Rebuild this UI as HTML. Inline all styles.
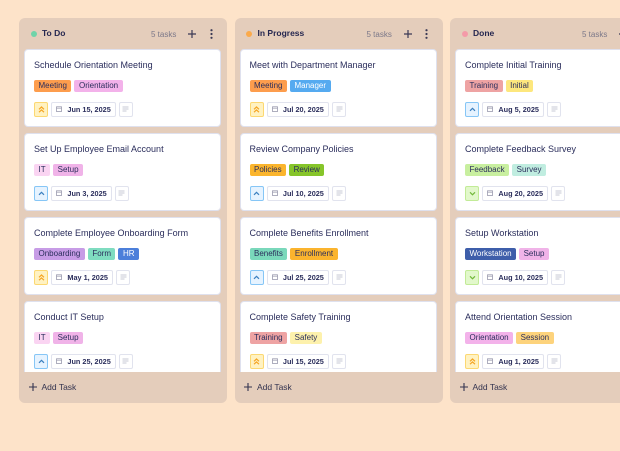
<!DOCTYPE html>
<html><head><meta charset="utf-8">
<style>
*{box-sizing:border-box;margin:0;padding:0}
html,body{width:620px;height:451px;overflow:hidden;background:#fde3c9;font-family:"Liberation Sans",sans-serif;}
.col{position:absolute;top:18px;width:208px;height:385px;background:#e4cdbb;border-radius:6px;}
.hdot{position:absolute;left:11.5px;top:12.5px;width:6px;height:6px;border-radius:50%}
.htitle{position:absolute;left:23px;top:10px;font-size:8.5px;font-weight:bold;color:#24264f;line-height:11px;white-space:nowrap}
.tasks{position:absolute;left:132px;top:10.5px;font-size:8px;color:#7b7889;line-height:11px;white-space:nowrap}
.hplus{position:absolute;left:169px;top:11.5px;width:8px;height:8px}
.hdots{position:absolute;left:190.5px;top:11px;width:3px;height:10px}
.list{position:absolute;left:0;top:30px;width:208px;height:324px;overflow:hidden}
.card{position:absolute;left:5px;width:197px;height:78px;background:#fff;border:1px solid #dfe1ee;border-radius:4px}
.title{position:absolute;left:9px;top:9px;font-size:9px;line-height:12px;color:#2b2e5c;white-space:nowrap}
.tags{position:absolute;left:9px;top:30px;height:12px;display:flex;gap:3px}
.tag{font-size:8px;line-height:12px;height:12px;padding:0 4.5px;border-radius:2px;color:#2b2e5c;white-space:nowrap}
.foot{position:absolute;left:9px;top:52.3px;height:14.4px;display:flex;gap:3px}
.prio{width:14.4px;height:14.4px;border-radius:2px;border:1px solid;display:flex;align-items:center;justify-content:center}
.p-h{background:#fff2c2;border-color:#fcd872}
.p-m{background:#e6f3ff;border-color:#86c6f6}
.p-l{background:#e2f8cb;border-color:#c2eb97}
.date{height:14.4px;border:1px solid #e1e3ee;border-radius:2px;padding:0 4px 0 4px;display:flex;align-items:center;font-size:7.3px;font-weight:bold;color:#2b2e5c;white-space:nowrap}
.date svg{margin-right:5px}
.note{width:14.4px;height:14.4px;border:1px solid #e1e3ee;border-radius:2px;display:flex;align-items:center;justify-content:center}
.add{position:absolute;left:9.5px;top:363px;display:flex;align-items:center;font-size:8.5px;color:#33334f;line-height:12px;white-space:nowrap}
.add svg{margin-right:5px}
</style></head><body>

<!-- Column 1 -->
<div class="col" style="left:19px">
  <div class="hdot" style="background:#6fd4a9"></div>
  <div class="htitle">To Do</div>
  <div class="tasks">5 tasks</div>
  <svg class="hplus" viewBox="0 0 8 8"><path d="M4 0V8M0 4H8" stroke="#3a3a55" stroke-width="1.2"/></svg>
  <svg class="hdots" viewBox="0 0 3 10"><circle cx="1.5" cy="1.2" r="1.1" fill="#3a3a55"/><circle cx="1.5" cy="5" r="1.1" fill="#3a3a55"/><circle cx="1.5" cy="8.8" r="1.1" fill="#3a3a55"/></svg>
  <div class="list">
    <div class="card" style="top:1px">
      <div class="title">Schedule Orientation Meeting</div>
      <div class="tags"><span class="tag" style="background:#fd9d4d">Meeting</span><span class="tag" style="background:#f3b2ea">Orientation</span></div>
      <div class="foot"><div class="prio p-h"><svg width="7" height="7" viewBox="0 0 7 7"><path d="M1 3.3L3.5 1L6 3.3M1 6.2L3.5 3.9L6 6.2" fill="none" stroke="#f5a524" stroke-width="1.2"/></svg></div><div class="date"><svg width="6" height="6" viewBox="0 0 6 6"><rect x=".5" y=".8" width="5" height="4.7" fill="none" stroke="#9a9aae" stroke-width=".8"/><path d="M.5 2.2H5.5" stroke="#9a9aae" stroke-width=".7"/></svg>Jun 15, 2025</div><div class="note"><svg width="7" height="6" viewBox="0 0 7 6"><path d="M0.5 1H6.5M0.5 3H6.5M0.5 5H4.5" stroke="#b5b8c8" stroke-width=".8"/></svg></div></div>
    </div>
    <div class="card" style="top:85px">
      <div class="title">Set Up Employee Email Account</div>
      <div class="tags"><span class="tag" style="background:#fad4f2">IT</span><span class="tag" style="background:#f0b3e8">Setup</span></div>
      <div class="foot"><div class="prio p-m"><svg width="7" height="5" viewBox="0 0 7 5"><path d="M1 3.8L3.5 1.3L6 3.8" fill="none" stroke="#3a7fbf" stroke-width="1.2"/></svg></div><div class="date"><svg width="6" height="6" viewBox="0 0 6 6"><rect x=".5" y=".8" width="5" height="4.7" fill="none" stroke="#9a9aae" stroke-width=".8"/><path d="M.5 2.2H5.5" stroke="#9a9aae" stroke-width=".7"/></svg>Jun 3, 2025</div><div class="note"><svg width="7" height="6" viewBox="0 0 7 6"><path d="M0.5 1H6.5M0.5 3H6.5M0.5 5H4.5" stroke="#b5b8c8" stroke-width=".8"/></svg></div></div>
    </div>
    <div class="card" style="top:169px">
      <div class="title">Complete Employee Onboarding Form</div>
      <div class="tags"><span class="tag" style="background:#c79ce6">Onboarding</span><span class="tag" style="background:#7fdcc0">Form</span><span class="tag" style="background:#4c7fda;color:#fff">HR</span></div>
      <div class="foot"><div class="prio p-h"><svg width="7" height="7" viewBox="0 0 7 7"><path d="M1 3.3L3.5 1L6 3.3M1 6.2L3.5 3.9L6 6.2" fill="none" stroke="#f5a524" stroke-width="1.2"/></svg></div><div class="date"><svg width="6" height="6" viewBox="0 0 6 6"><rect x=".5" y=".8" width="5" height="4.7" fill="none" stroke="#9a9aae" stroke-width=".8"/><path d="M.5 2.2H5.5" stroke="#9a9aae" stroke-width=".7"/></svg>May 1, 2025</div><div class="note"><svg width="7" height="6" viewBox="0 0 7 6"><path d="M0.5 1H6.5M0.5 3H6.5M0.5 5H4.5" stroke="#b5b8c8" stroke-width=".8"/></svg></div></div>
    </div>
    <div class="card" style="top:253px">
      <div class="title">Conduct IT Setup</div>
      <div class="tags"><span class="tag" style="background:#fad4f2">IT</span><span class="tag" style="background:#f0b3e8">Setup</span></div>
      <div class="foot"><div class="prio p-m"><svg width="7" height="5" viewBox="0 0 7 5"><path d="M1 3.8L3.5 1.3L6 3.8" fill="none" stroke="#3a7fbf" stroke-width="1.2"/></svg></div><div class="date"><svg width="6" height="6" viewBox="0 0 6 6"><rect x=".5" y=".8" width="5" height="4.7" fill="none" stroke="#9a9aae" stroke-width=".8"/><path d="M.5 2.2H5.5" stroke="#9a9aae" stroke-width=".7"/></svg>Jun 25, 2025</div><div class="note"><svg width="7" height="6" viewBox="0 0 7 6"><path d="M0.5 1H6.5M0.5 3H6.5M0.5 5H4.5" stroke="#b5b8c8" stroke-width=".8"/></svg></div></div>
    </div>
  </div>
  <div class="add"><svg width="8" height="8" viewBox="0 0 8 8"><path d="M4 0V8M0 4H8" stroke="#33334f" stroke-width="1.1"/></svg>Add Task</div>
</div>

<!-- Column 2 -->
<div class="col" style="left:234.5px">
  <div class="hdot" style="background:#fbaa4b"></div>
  <div class="htitle">In Progress</div>
  <div class="tasks">5 tasks</div>
  <svg class="hplus" viewBox="0 0 8 8"><path d="M4 0V8M0 4H8" stroke="#3a3a55" stroke-width="1.2"/></svg>
  <svg class="hdots" viewBox="0 0 3 10"><circle cx="1.5" cy="1.2" r="1.1" fill="#3a3a55"/><circle cx="1.5" cy="5" r="1.1" fill="#3a3a55"/><circle cx="1.5" cy="8.8" r="1.1" fill="#3a3a55"/></svg>
  <div class="list">
    <div class="card" style="top:1px">
      <div class="title">Meet with Department Manager</div>
      <div class="tags"><span class="tag" style="background:#fd9d4d">Meeting</span><span class="tag" style="background:#55aaf0;color:#fff">Manager</span></div>
      <div class="foot"><div class="prio p-h"><svg width="7" height="7" viewBox="0 0 7 7"><path d="M1 3.3L3.5 1L6 3.3M1 6.2L3.5 3.9L6 6.2" fill="none" stroke="#f5a524" stroke-width="1.2"/></svg></div><div class="date"><svg width="6" height="6" viewBox="0 0 6 6"><rect x=".5" y=".8" width="5" height="4.7" fill="none" stroke="#9a9aae" stroke-width=".8"/><path d="M.5 2.2H5.5" stroke="#9a9aae" stroke-width=".7"/></svg>Jul 20, 2025</div><div class="note"><svg width="7" height="6" viewBox="0 0 7 6"><path d="M0.5 1H6.5M0.5 3H6.5M0.5 5H4.5" stroke="#b5b8c8" stroke-width=".8"/></svg></div></div>
    </div>
    <div class="card" style="top:85px">
      <div class="title">Review Company Policies</div>
      <div class="tags"><span class="tag" style="background:#fbb52d">Policies</span><span class="tag" style="background:#86c52a">Review</span></div>
      <div class="foot"><div class="prio p-m"><svg width="7" height="5" viewBox="0 0 7 5"><path d="M1 3.8L3.5 1.3L6 3.8" fill="none" stroke="#3a7fbf" stroke-width="1.2"/></svg></div><div class="date"><svg width="6" height="6" viewBox="0 0 6 6"><rect x=".5" y=".8" width="5" height="4.7" fill="none" stroke="#9a9aae" stroke-width=".8"/><path d="M.5 2.2H5.5" stroke="#9a9aae" stroke-width=".7"/></svg>Jul 10, 2025</div><div class="note"><svg width="7" height="6" viewBox="0 0 7 6"><path d="M0.5 1H6.5M0.5 3H6.5M0.5 5H4.5" stroke="#b5b8c8" stroke-width=".8"/></svg></div></div>
    </div>
    <div class="card" style="top:169px">
      <div class="title">Complete Benefits Enrollment</div>
      <div class="tags"><span class="tag" style="background:#7ad8bb">Benefits</span><span class="tag" style="background:#fbb42e">Enrollment</span></div>
      <div class="foot"><div class="prio p-m"><svg width="7" height="5" viewBox="0 0 7 5"><path d="M1 3.8L3.5 1.3L6 3.8" fill="none" stroke="#3a7fbf" stroke-width="1.2"/></svg></div><div class="date"><svg width="6" height="6" viewBox="0 0 6 6"><rect x=".5" y=".8" width="5" height="4.7" fill="none" stroke="#9a9aae" stroke-width=".8"/><path d="M.5 2.2H5.5" stroke="#9a9aae" stroke-width=".7"/></svg>Jul 25, 2025</div><div class="note"><svg width="7" height="6" viewBox="0 0 7 6"><path d="M0.5 1H6.5M0.5 3H6.5M0.5 5H4.5" stroke="#b5b8c8" stroke-width=".8"/></svg></div></div>
    </div>
    <div class="card" style="top:253px">
      <div class="title">Complete Safety Training</div>
      <div class="tags"><span class="tag" style="background:#eea3a3">Training</span><span class="tag" style="background:#fdf1ac">Safety</span></div>
      <div class="foot"><div class="prio p-h"><svg width="7" height="7" viewBox="0 0 7 7"><path d="M1 3.3L3.5 1L6 3.3M1 6.2L3.5 3.9L6 6.2" fill="none" stroke="#f5a524" stroke-width="1.2"/></svg></div><div class="date"><svg width="6" height="6" viewBox="0 0 6 6"><rect x=".5" y=".8" width="5" height="4.7" fill="none" stroke="#9a9aae" stroke-width=".8"/><path d="M.5 2.2H5.5" stroke="#9a9aae" stroke-width=".7"/></svg>Jul 15, 2025</div><div class="note"><svg width="7" height="6" viewBox="0 0 7 6"><path d="M0.5 1H6.5M0.5 3H6.5M0.5 5H4.5" stroke="#b5b8c8" stroke-width=".8"/></svg></div></div>
    </div>
  </div>
  <div class="add"><svg width="8" height="8" viewBox="0 0 8 8"><path d="M4 0V8M0 4H8" stroke="#33334f" stroke-width="1.1"/></svg>Add Task</div>
</div>

<!-- Column 3 -->
<div class="col" style="left:450px">
  <div class="hdot" style="background:#f49aa8"></div>
  <div class="htitle">Done</div>
  <div class="tasks">5 tasks</div>
  <svg class="hplus" viewBox="0 0 8 8"><path d="M4 0V8M0 4H8" stroke="#3a3a55" stroke-width="1.2"/></svg>
  <svg class="hdots" viewBox="0 0 3 10"><circle cx="1.5" cy="1.2" r="1.1" fill="#3a3a55"/><circle cx="1.5" cy="5" r="1.1" fill="#3a3a55"/><circle cx="1.5" cy="8.8" r="1.1" fill="#3a3a55"/></svg>
  <div class="list">
    <div class="card" style="top:1px">
      <div class="title">Complete Initial Training</div>
      <div class="tags"><span class="tag" style="background:#eea3a3">Training</span><span class="tag" style="background:#fde77d">Initial</span></div>
      <div class="foot"><div class="prio p-m"><svg width="7" height="5" viewBox="0 0 7 5"><path d="M1 3.8L3.5 1.3L6 3.8" fill="none" stroke="#3a7fbf" stroke-width="1.2"/></svg></div><div class="date"><svg width="6" height="6" viewBox="0 0 6 6"><rect x=".5" y=".8" width="5" height="4.7" fill="none" stroke="#9a9aae" stroke-width=".8"/><path d="M.5 2.2H5.5" stroke="#9a9aae" stroke-width=".7"/></svg>Aug 5, 2025</div><div class="note"><svg width="7" height="6" viewBox="0 0 7 6"><path d="M0.5 1H6.5M0.5 3H6.5M0.5 5H4.5" stroke="#b5b8c8" stroke-width=".8"/></svg></div></div>
    </div>
    <div class="card" style="top:85px">
      <div class="title">Complete Feedback Survey</div>
      <div class="tags"><span class="tag" style="background:#c8ef9f">Feedback</span><span class="tag" style="background:#c0ede0">Survey</span></div>
      <div class="foot"><div class="prio p-l"><svg width="7" height="5" viewBox="0 0 7 5"><path d="M1 1.3L3.5 3.8L6 1.3" fill="none" stroke="#72b83a" stroke-width="1.2"/></svg></div><div class="date"><svg width="6" height="6" viewBox="0 0 6 6"><rect x=".5" y=".8" width="5" height="4.7" fill="none" stroke="#9a9aae" stroke-width=".8"/><path d="M.5 2.2H5.5" stroke="#9a9aae" stroke-width=".7"/></svg>Aug 20, 2025</div><div class="note"><svg width="7" height="6" viewBox="0 0 7 6"><path d="M0.5 1H6.5M0.5 3H6.5M0.5 5H4.5" stroke="#b5b8c8" stroke-width=".8"/></svg></div></div>
    </div>
    <div class="card" style="top:169px">
      <div class="title">Setup Workstation</div>
      <div class="tags"><span class="tag" style="background:#3e5eaa;color:#fff">Workstation</span><span class="tag" style="background:#f0b3e8">Setup</span></div>
      <div class="foot"><div class="prio p-l"><svg width="7" height="5" viewBox="0 0 7 5"><path d="M1 1.3L3.5 3.8L6 1.3" fill="none" stroke="#72b83a" stroke-width="1.2"/></svg></div><div class="date"><svg width="6" height="6" viewBox="0 0 6 6"><rect x=".5" y=".8" width="5" height="4.7" fill="none" stroke="#9a9aae" stroke-width=".8"/><path d="M.5 2.2H5.5" stroke="#9a9aae" stroke-width=".7"/></svg>Aug 10, 2025</div><div class="note"><svg width="7" height="6" viewBox="0 0 7 6"><path d="M0.5 1H6.5M0.5 3H6.5M0.5 5H4.5" stroke="#b5b8c8" stroke-width=".8"/></svg></div></div>
    </div>
    <div class="card" style="top:253px">
      <div class="title">Attend Orientation Session</div>
      <div class="tags"><span class="tag" style="background:#f3b2ea">Orientation</span><span class="tag" style="background:#fdd37c">Session</span></div>
      <div class="foot"><div class="prio p-h"><svg width="7" height="7" viewBox="0 0 7 7"><path d="M1 3.3L3.5 1L6 3.3M1 6.2L3.5 3.9L6 6.2" fill="none" stroke="#f5a524" stroke-width="1.2"/></svg></div><div class="date"><svg width="6" height="6" viewBox="0 0 6 6"><rect x=".5" y=".8" width="5" height="4.7" fill="none" stroke="#9a9aae" stroke-width=".8"/><path d="M.5 2.2H5.5" stroke="#9a9aae" stroke-width=".7"/></svg>Aug 1, 2025</div><div class="note"><svg width="7" height="6" viewBox="0 0 7 6"><path d="M0.5 1H6.5M0.5 3H6.5M0.5 5H4.5" stroke="#b5b8c8" stroke-width=".8"/></svg></div></div>
    </div>
  </div>
  <div class="add"><svg width="8" height="8" viewBox="0 0 8 8"><path d="M4 0V8M0 4H8" stroke="#33334f" stroke-width="1.1"/></svg>Add Task</div>
</div>

</body></html>
